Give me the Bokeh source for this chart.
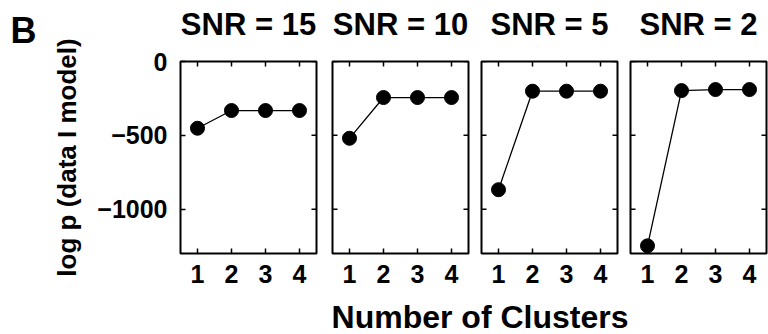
import math

from bokeh.plotting import figure
from bokeh.layouts import row, column
from bokeh.models import FixedTicker, Range1d, LinearAxis
from bokeh.core.validation import silence
from bokeh.core.validation.warnings import MISSING_RENDERERS
from bokeh.embed import file_html
from bokeh.resources import INLINE

silence(MISSING_RENDERERS, True)

# Model evidence for 1-4 clusters at each signal-to-noise ratio
clusters = [1, 2, 3, 4]
snr_titles = ["SNR = 15", "SNR = 10", "SNR = 5", "SNR = 2"]
logp_snr15 = [-452, -332, -332, -332]
logp_snr10 = [-520, -244, -244, -244]
logp_snr5 = [-868, -201, -201, -201]
logp_snr2 = [-1248, -197, -190, -190]
series = [logp_snr15, logp_snr10, logp_snr5, logp_snr2]

y_ticks = [-1000, -500, 0]
y_tick_labels = {-1000: "\u22121000", -500: "\u2212500", 0: "0"}
x_ticks = [1, 2, 3, 4]
x_lim = (0.5, 4.5)
y_lim = (-1300, 0)

FONT = "Liberation Sans"
TICK_LEN = 5
TICK_W = 1.5

# per-panel borders: (left, right, width)
borders = [(140, 8, 284), (8, 6, 150), (7, 6, 149), (7, 2, 145)]


def style_axis(ax, standoff):
    ax.axis_line_color = None
    ax.major_tick_in = TICK_LEN
    ax.major_tick_out = 0
    ax.major_tick_line_width = TICK_W
    ax.major_tick_line_color = "black"
    ax.minor_tick_line_color = None
    ax.major_label_text_font = FONT
    ax.major_label_text_font_style = "bold"
    ax.major_label_text_color = "black"
    ax.major_label_text_font_size = "25px"
    ax.major_label_standoff = standoff


# panel letter in its own narrow strip
tag = figure(width=40, height=300, output_backend="svg", toolbar_location=None,
             x_axis_type=None, y_axis_type=None, title="B",
             min_border_left=0, min_border_right=0,
             min_border_top=0, min_border_bottom=0)
tag.outline_line_color = None
tag.grid.visible = False
tag.title.text_font = FONT
tag.title.text_font_size = "36px"
tag.title.text_font_style = "bold"
tag.title.text_color = "black"
tag.title.align = "left"
tag.title.vertical_align = "top"
tag.title.offset = 10
tag.title.standoff = 18

panels = [tag]
for i, (title, values) in enumerate(zip(snr_titles, series)):
    left, right, width = borders[i]
    p = figure(width=width, height=300,
               x_range=Range1d(*x_lim), y_range=Range1d(*y_lim),
               output_backend="svg", toolbar_location=None,
               y_axis_location="left" if i == 0 else None,
               min_border_left=left, min_border_right=right,
               min_border_top=61, min_border_bottom=47)
    p.grid.visible = False
    p.outline_line_color = "black"
    p.outline_line_width = 2
    p.outline_line_alpha = 1

    bottom_ax = p.below[0]
    bottom_ax.ticker = FixedTicker(ticks=x_ticks)
    style_axis(bottom_ax, 11)

    # panel heading carried by a tick-less top axis
    head = LinearAxis(ticker=FixedTicker(ticks=[]), axis_label=title)
    head.axis_line_color = None
    head.major_tick_line_color = None
    head.minor_tick_line_color = None
    head.major_label_standoff = 0
    head.axis_label_text_font = FONT
    head.axis_label_text_font_size = "31px"
    head.axis_label_text_font_style = "bold"
    head.axis_label_text_color = "black"
    head.axis_label_standoff = 20
    p.add_layout(head, "above")

    if i == 0:
        yax = p.left[0]
        yax.ticker = FixedTicker(ticks=y_ticks)
        yax.major_label_overrides = y_tick_labels
        style_axis(yax, 13)
        yax.axis_label = "log p (data I model)"
        yax.axis_label_text_font = FONT
        yax.axis_label_text_font_size = "26px"
        yax.axis_label_text_font_style = "bold"
        yax.axis_label_text_color = "black"
        yax.axis_label_standoff = 12
    else:
        # inward y ticks on the left edge
        p.ray(x=[x_lim[0]] * len(y_ticks), y=y_ticks, length=TICK_LEN,
              length_units="screen", angle=0,
              line_color="black", line_width=TICK_W)

    # inward ticks on the top and right edges
    p.ray(x=x_ticks, y=[y_lim[1]] * len(x_ticks), length=TICK_LEN,
          length_units="screen", angle=-math.pi / 2,
          line_color="black", line_width=TICK_W)
    p.ray(x=[x_lim[1]] * len(y_ticks), y=y_ticks, length=TICK_LEN,
          length_units="screen", angle=math.pi,
          line_color="black", line_width=TICK_W)

    p.line(clusters, values, line_color="black", line_width=1.3)
    p.scatter(clusters, values, size=14, fill_color="black", line_color="black")
    panels.append(p)

# shared x-axis caption under the four panels
foot = figure(width=768, height=34, output_backend="svg", toolbar_location=None,
              x_axis_type=None, y_axis_type=None,
              min_border_left=191, min_border_right=0,
              min_border_top=0, min_border_bottom=0)
foot.outline_line_color = None
foot.grid.visible = False
foot.title.text = "Number of Clusters"
foot.title.text_font = FONT
foot.title.text_font_size = "32px"
foot.title.text_font_style = "bold"
foot.title.text_color = "black"
foot.title.align = "center"
foot.title.standoff = 0

layout = column(row(*panels, spacing=0), foot, spacing=0)

open("out.html", "w").write(file_html(layout, INLINE))
